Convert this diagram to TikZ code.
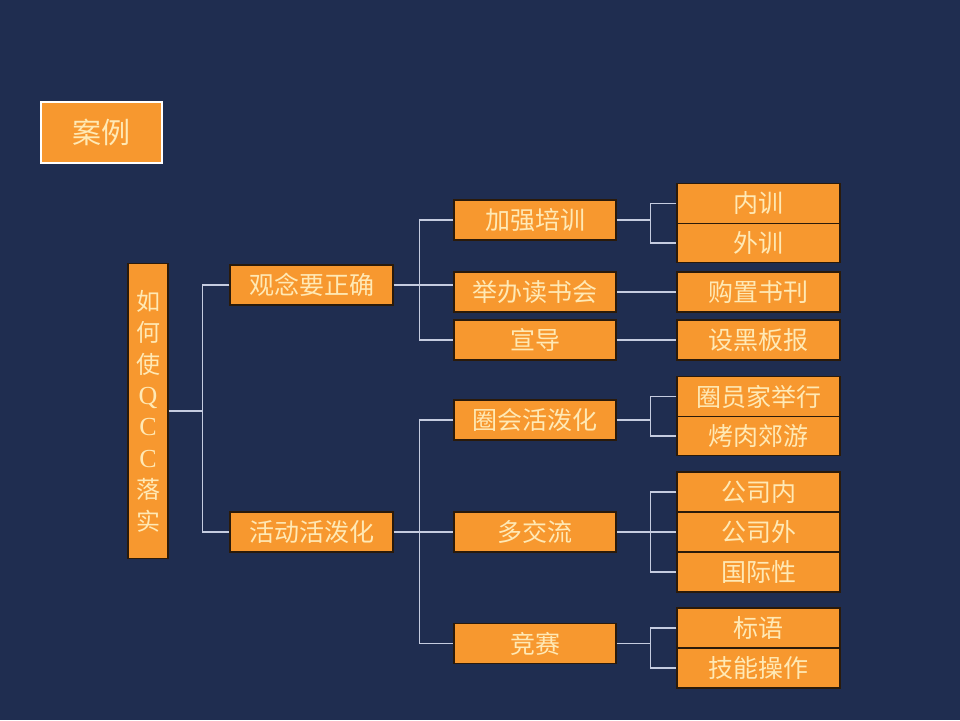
\documentclass[tikz,border=0pt]{standalone}
\usepackage{fontspec}
\setmainfont{Liberation Serif}
\newfontfamily\cjk{Noto Sans CJK SC}
\definecolor{navy}{HTML}{1F2D50}
\definecolor{boxorange}{HTML}{F7982F}
\definecolor{cream}{HTML}{FFE9B5}
\definecolor{linegray}{HTML}{C5CCE0}
\definecolor{boxedge}{HTML}{2A1A0A}
\begin{document}
\begin{tikzpicture}[
  x=1pt, y=-1pt,
  box/.style={
    draw=boxedge, line width=1.2pt, fill=boxorange, rectangle,
    text=cream, font=\cjk\fontsize{25}{30}\selectfont,
    inner sep=0pt, minimum width=163pt, minimum height=40pt, align=center
  },
  titlebox/.style={
    box, draw=white, minimum width=121pt, minimum height=61pt,
    font=\cjk\fontsize{29}{34}\selectfont
  },
  rootbox/.style={
    box, minimum width=40pt, minimum height=295pt,
    font=\cjk\fontsize{24}{31.4}\selectfont
  },
  link/.style={draw=linegray, line width=1.4pt},
]

\useasboundingbox (0,0) rectangle (960,720);
\fill[navy] (0,0) rectangle (960,720);

\def\lone{311.5}
\def\ltwo{535}
\def\lthree{758.5}

\node[titlebox] (case) at (101.5, 132.5) {案例};

\node[rootbox] (qcc) at (148, 411) {
  如\\何\\使\\{\rmfamily\fontsize{26}{31.4}\selectfont Q}\\
  {\rmfamily\fontsize{26}{31.4}\selectfont C}\\
  {\rmfamily\fontsize{26}{31.4}\selectfont C}\\落\\实
};

% first level
\node[box] (idea) at (\lone, 285) {观念要正确};
\node[box] (act) at (\lone, 532) {活动活泼化};

% second level
\node[box, minimum width=162pt] (train) at (\ltwo, 220) {加强培训};
\node[box, minimum width=162pt] (club) at (\ltwo, 292) {举办读书会};
\node[box, minimum width=162pt] (promo) at (\ltwo, 340) {宣导};
\node[box, minimum width=162pt] (circle) at (\ltwo, 420) {圈会活泼化};
\node[box, minimum width=162pt] (talk) at (\ltwo, 532) {多交流};
\node[box, minimum width=162pt] (contest) at (\ltwo, 643.5) {竞赛};

% third level
\node[box, minimum height=39.5pt] (inner) at (\lthree, 203.5) {内训};
\node[box, minimum height=39.5pt] (outer) at (\lthree, 243) {外训};
\node[box] (books) at (\lthree, 292) {购置书刊};
\node[box] (board) at (\lthree, 340) {设黑板报};
\node[box, minimum height=39.5pt] (home) at (\lthree, 396.5) {圈员家举行};
\node[box, minimum height=39.5pt] (bbq) at (\lthree, 436) {烤肉郊游};
\node[box] (cin) at (\lthree, 492) {公司内};
\node[box] (cout) at (\lthree, 532) {公司外};
\node[box] (intl) at (\lthree, 572) {国际性};
\node[box] (slogan) at (\lthree, 628) {标语};
\node[box] (skill) at (\lthree, 668) {技能操作};

% junctions
\coordinate (j0) at ([xshift=34pt]qcc.east);
\coordinate (j1) at ([xshift=26pt]idea.east);
\coordinate (j2) at ([xshift=26pt]act.east);
\coordinate (j3) at ([xshift=34pt]train.east);
\coordinate (j4) at ([xshift=34pt]circle.east);
\coordinate (j5) at ([xshift=34pt]talk.east);
\coordinate (j6) at ([xshift=34pt]contest.east);

\draw[link] (qcc.east) -- (j0);
\draw[link] (idea.west) -| (j0) |- (act.west);

\draw[link] (idea.east) -- (idea.east -| club.west);
\draw[link] (train.west) -| (j1) |- (promo.west);
\draw[link] (act.east) -- (j2);
\draw[link] (circle.west) -| (j2) |- (contest.west);
\draw[link] (j2) -- (talk.west);

\draw[link] (train.east) -- (j3);
\draw[link] (inner.west) -| (j3) |- (outer.west);
\draw[link] (club.east) -- (books.west);
\draw[link] (promo.east) -- (board.west);
\draw[link] (circle.east) -- (j4);
\draw[link] (home.west) -| (j4) |- (bbq.west);
\draw[link] (talk.east) -- (j5);
\draw[link] (cin.west) -| (j5) |- (intl.west);
\draw[link] (j5) -- (cout.west);
\draw[link] (contest.east) -- (j6);
\draw[link] (slogan.west) -| (j6) |- (skill.west);

\end{tikzpicture}
\end{document}
